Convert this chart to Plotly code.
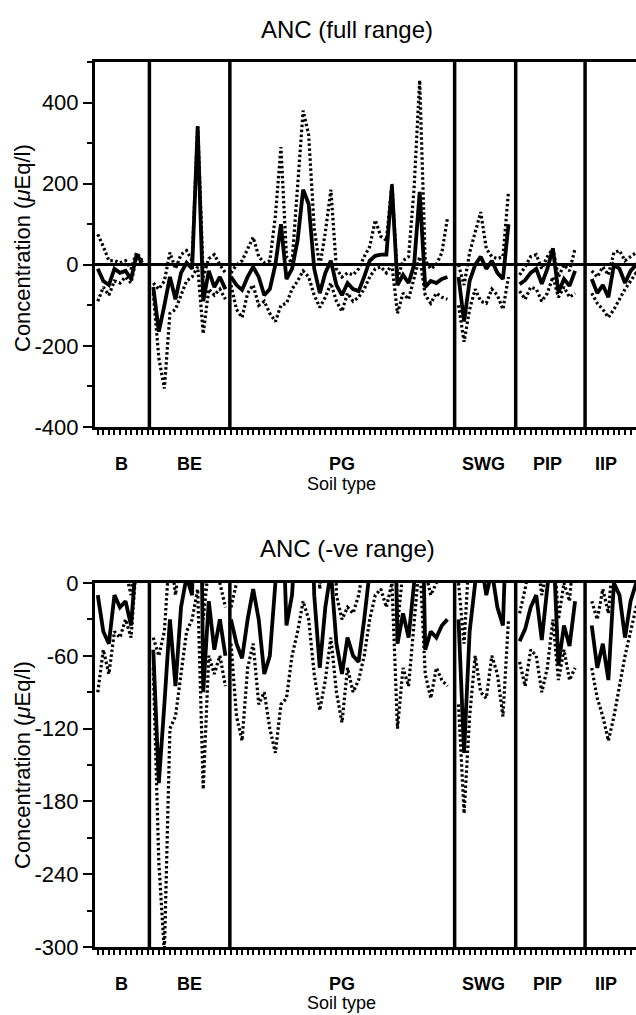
import plotly.graph_objects as go

W, H = 636, 1015

# ---------------- data ----------------
soil_types = ["B", "BE", "PG", "SWG", "PIP", "IIP"]
group_start = [1, 11, 25, 66, 77, 90]          # first sample index of each soil type
label_x = [5.3, 17.5, 45, 70.5, 82, 92.5]       # where the soil type labels sit

median_B = [-10, -40, -50, -10, -20, -15, -35, 25, 5]
low_B = [-90, -55, -75, -40, -45, -30, -45, 20, 0]
high_B = [75, 45, 10, 10, 5, 10, -10, 30, 10]

median_BE = [-55, -165, -100, -30, -85, -20, 5, -10, 340, -90, -15, -55, -30, -60]
low_BE = [-70, -230, -305, -120, -110, -75, -40, -30, -5, -170, -60, -75, -60, -85]
high_BE = [-45, -60, -40, 30, -10, 25, 35, 10, 345, -30, 15, 25, 0, -20]

median_PG = [-30, -50, -62, -30, -5, -30, -75, -60, 0, 100,
             -35, -10, 60, 185, 150, -10, -70, -20, 10, -50,
             -75, -45, -60, -65, -30, 10, 22, 25, 25, 195,
             -50, -25, -45, 0, 180, -55, -40, -45, -35, -30]
low_PG = [-50, -110, -130, -70, -50, -100, -90, -120, -140, -100,
          -95, -60, -40, -15, -30, -75, -105, -80, -45, -90,
          -115, -70, -90, -80, -60, -30, -10, -5, -20, 0,
          -120, -70, -85, -30, 20, -75, -95, -70, -80, -85]
high_PG = [-20, 0, 10, 40, 68, 20, 5, 10, 120, 290,
           20, 5, 200, 380, 320, 90, -5, 80, 185, -10,
           -30, -20, -25, -10, 20, 45, 110, 70, 60, 200,
           -35, 10, 20, 190, 455, 10, -10, 0, 30, 115]

median_SWG = [-30, -140, -40, 0, 20, -10, 10, -20, -35, 100]
low_SWG = [-100, -190, -110, -60, -90, -95, -60, -75, -110, -30]
high_SWG = [0, -50, 30, 80, 130, 40, 20, 15, 20, 180]

median_PIP = [-48, -38, -20, -10, -47, -10, 40, -68, -35, -52, -15]
low_PIP = [-65, -85, -55, -60, -90, -70, -30, -80, -55, -80, -70]
high_PIP = [-25, -5, 20, 25, -10, 20, 40, -30, 0, -15, 40]

median_IIP = [-35, -70, -50, -80, 0, -10, -45, -15, 0, -10]
low_IIP = [-70, -95, -110, -130, -110, -85, -60, -40, -20, -15]
high_IIP = [-15, -30, -5, -25, 30, 35, 10, 20, 30, 20]

medians = [median_B, median_BE, median_PG, median_SWG, median_PIP, median_IIP]
lows = [low_B, low_BE, low_PG, low_SWG, low_PIP, low_IIP]
highs = [high_B, high_BE, high_PG, high_SWG, high_PIP, high_IIP]

full_ticks = [-400, -200, 0, 200, 400]
full_tick_text = ["-400", "-200", "0", "200", "400"]
neg_ticks = [-300, -240, -180, -120, -60, 0]
neg_tick_text = ["-300", "-240", "-180", "-120", "-60", "0"]


def joined(series_list):
    xs, ys = [], []
    for start, vals in zip(group_start, series_list):
        xs += [start + k for k in range(len(vals))] + [None]
        ys += list(vals) + [None]
    return xs, ys


# boundaries between soil types: halfway between neighbouring groups
boundaries = []
for g in range(1, len(group_start)):
    last_prev = group_start[g - 1] + len(medians[g - 1]) - 1
    boundaries.append((last_prev + group_start[g]) / 2 + 0.3)

# ---------------- figure ----------------
fig = go.Figure()

LINE = "#000000"
for xa, ya in (("x", "y"), ("x2", "y2")):
    for series, style in ((highs, "dot"), (lows, "dot"), (medians, "solid")):
        xs, ys = joined(series)
        if style == "solid":
            line = dict(color=LINE, width=3.8)
        else:
            line = dict(color=LINE, width=3.2, dash="2.5px,2.5px")
        fig.add_trace(go.Scatter(x=xs, y=ys, mode="lines", line=line,
                                 xaxis=xa, yaxis=ya, showlegend=False,
                                 connectgaps=False, hoverinfo="skip"))


def px_x(p):
    return p / W


def px_y(p):
    return 1 - p / H


x_left = 95
x_range = [0.5, 0.5 + (W - x_left) / 5.55]

xcommon = dict(domain=[px_x(x_left), 1], range=x_range, showline=True,
               linewidth=3, linecolor=LINE, mirror=True, ticks="outside",
               ticklen=5, tickwidth=1.5, tickcolor=LINE, tick0=1, dtick=1,
               showticklabels=False, showgrid=False, zeroline=False,
               automargin=False)
ycommon = dict(showline=True, linewidth=3, linecolor=LINE, ticks="outside",
               ticklen=9, tickwidth=2, tickcolor=LINE, showgrid=False,
               automargin=False,
               tickfont=dict(family="Liberation Sans, Arial", size=22, color="#000"))

fig.update_layout(
    template="none",
    width=W, height=H, margin=dict(l=0, r=0, t=0, b=0, pad=0, autoexpand=False),
    paper_bgcolor="white", plot_bgcolor="white",
    xaxis=dict(anchor="y", **xcommon),
    yaxis=dict(anchor="x", domain=[px_y(427), px_y(62)], range=[-400, 500],
               tickvals=full_ticks, ticktext=full_tick_text,
               zeroline=True, zerolinecolor=LINE, zerolinewidth=3,
               minor=dict(dtick=100, tick0=-300, ticks="outside", ticklen=5,
                          tickwidth=2, tickcolor=LINE),
               **ycommon),
    xaxis2=dict(anchor="y2", **xcommon),
    yaxis2=dict(anchor="x2", domain=[px_y(947), px_y(583)], range=[-300, 0],
                tickvals=neg_ticks, ticktext=neg_tick_text, zeroline=False,
                minor=dict(dtick=30, tick0=-270, ticks="outside", ticklen=5,
                           tickwidth=2, tickcolor=LINE),
                **ycommon),
)

shapes = []
for b in boundaries:
    for xr, yr in (("x", "y domain"), ("x2", "y2 domain")):
        shapes.append(dict(type="line", xref=xr, yref=yr, x0=b, x1=b, y0=0, y1=1,
                           line=dict(color=LINE, width=3.5)))
fig.update_layout(shapes=shapes)

FONT = "Liberation Sans, Arial"
ann = []
for title, yc in (("ANC (full range)", 30), ("ANC (-ve range)", 548)):
    ann.append(dict(text=title, x=px_x(347), y=px_y(yc), xref="paper", yref="paper",
                    showarrow=False, xanchor="center", yanchor="middle",
                    font=dict(family=FONT, size=24, color="#000")))
for yc in (248, 765):
    ann.append(dict(text="Concentration (<i>μ</i>Eq/l)", x=px_x(22), y=px_y(yc),
                    xref="paper", yref="paper", textangle=-90, showarrow=False,
                    xanchor="center", yanchor="middle",
                    font=dict(family=FONT, size=22, color="#000")))
for xr, ylab, ysoil in (("x", 464, 484), ("x2", 984, 1003)):
    for name, lx in zip(soil_types, label_x):
        ann.append(dict(text="<b>" + name + "</b>", x=lx, y=px_y(ylab), xref=xr,
                        yref="paper", showarrow=False, xanchor="center",
                        yanchor="middle", font=dict(family=FONT, size=18, color="#000")))
    ann.append(dict(text="Soil type", x=45, y=px_y(ysoil), xref=xr, yref="paper",
                    showarrow=False, xanchor="center", yanchor="middle",
                    font=dict(family=FONT, size=18, color="#000")))
fig.update_layout(annotations=ann)

fig.write_html(
    "out.html",
    config={"displayModeBar": False},
    post_script="document.body.style.margin='0';document.body.style.overflow='hidden';",
)
